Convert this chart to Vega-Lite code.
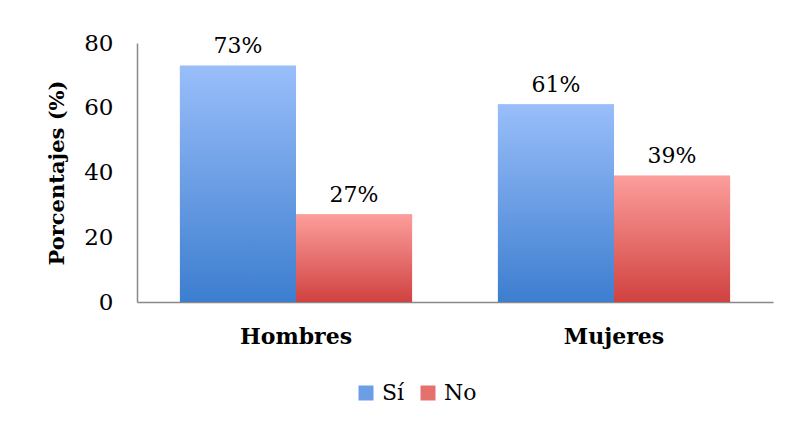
{
  "$schema": "https://vega.github.io/schema/vega-lite/v6.json",
  "width": 636,
  "height": 259,
  "autosize": {"type": "none"},
  "padding": {"left": 137, "top": 43, "right": 15, "bottom": 122},
  "background": "white",
  "config": {
    "view": {"stroke": null},
    "font": "DejaVu Serif"
  },
  "data": {
    "values": [
      {"grupo": "Hombres", "respuesta": "Sí", "porcentaje": 73, "etiqueta": "73%"},
      {"grupo": "Hombres", "respuesta": "No", "porcentaje": 27, "etiqueta": "27%"},
      {"grupo": "Mujeres", "respuesta": "Sí", "porcentaje": 61, "etiqueta": "61%"},
      {"grupo": "Mujeres", "respuesta": "No", "porcentaje": 39, "etiqueta": "39%"}
    ]
  },
  "encoding": {
    "x": {
      "field": "grupo", "type": "nominal", "sort": ["Hombres", "Mujeres"],
      "scale": {"paddingInner": 0.27, "paddingOuter": 0.135},
      "axis": {
        "title": null, "labelAngle": 0, "ticks": false, "domainColor": "#888888",
        "domainWidth": 1.5,
        "labelFont": "DejaVu Serif", "labelFontWeight": "bold", "labelFontSize": 22,
        "labelColor": "#000000", "labelPadding": 24
      }
    },
    "xOffset": {"field": "respuesta", "type": "nominal", "sort": ["Sí", "No"], "scale": {"domain": ["Sí", "No"], "paddingInner": 0}},
    "y": {
      "field": "porcentaje", "type": "quantitative",
      "scale": {"domain": [0, 80]},
      "axis": {
        "title": "Porcentajes  (%)", "values": [0, 20, 40, 60, 80], "grid": false, "ticks": false,
        "domainColor": "#888888", "domainWidth": 1.5,
        "labelFont": "DejaVu Serif", "labelFontSize": 23, "labelColor": "#000000", "labelPadding": 24,
        "titleFont": "DejaVu Serif", "titleFontWeight": "bold", "titleFontSize": 21, "titleColor": "#000000",
        "titlePadding": 16
      }
    }
  },
  "layer": [
    {
      "mark": {"type": "bar"},
      "encoding": {
        "color": {
          "field": "respuesta", "type": "nominal", "sort": ["Sí", "No"],
          "scale": {"domain": ["Sí", "No"], "range": ["#6B9EE4", "#E6706E"]},
          "legend": {
            "title": null, "orient": "none", "direction": "horizontal",
            "legendX": 218, "legendY": 339,
            "symbolType": "square", "symbolSize": 225, "symbolStrokeWidth": 0, "symbolOpacity": 1,
            "labelFont": "DejaVu Serif", "labelFontSize": 22, "labelColor": "#000000",
            "columnPadding": 12, "labelOffset": 5, "padding": 0,
            "encode": {
              "symbols": {
                "update": {
                  "fill": {"signal": "datum.value === 'Sí' ? {gradient: 'linear', x1: 0, y1: 0, x2: 0, y2: 1, stops: [{offset: 0, color: '#99BEFA'}, {offset: 1, color: '#3D7ECF'}]} : {gradient: 'linear', x1: 0, y1: 0, x2: 0, y2: 1, stops: [{offset: 0, color: '#FC9E9C'}, {offset: 1, color: '#D04240'}]}"}
                }
              }
            }
          }
        }
      }
    },
    {
      "transform": [{"filter": "datum.respuesta === 'Sí'"}],
      "mark": {
        "type": "bar",
        "color": {"gradient": "linear", "x1": 0, "y1": 0, "x2": 0, "y2": 1,
          "stops": [{"offset": 0, "color": "#99BEFA"}, {"offset": 1, "color": "#3D7ECF"}]}
      }
    },
    {
      "transform": [{"filter": "datum.respuesta === 'No'"}],
      "mark": {
        "type": "bar",
        "color": {"gradient": "linear", "x1": 0, "y1": 0, "x2": 0, "y2": 1,
          "stops": [{"offset": 0, "color": "#FC9E9C"}, {"offset": 1, "color": "#D04240"}]}
      }
    },
    {
      "mark": {"type": "text", "baseline": "bottom", "dy": -8, "font": "DejaVu Serif", "fontSize": 22, "color": "#000000"},
      "encoding": {"text": {"field": "etiqueta", "type": "nominal"}}
    }
  ]
}
